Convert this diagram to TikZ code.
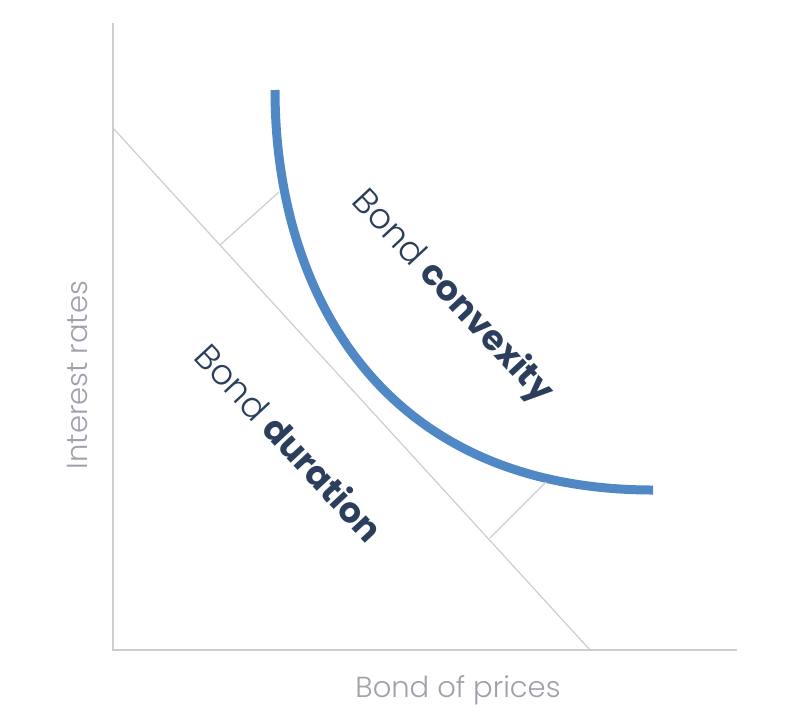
\documentclass[tikz,border=0pt]{standalone}
\usepackage{fontspec}
\usepackage{tikz}
\setmainfont{Poppins}
\newfontfamily\lightfont{Poppins Light}
\definecolor{curveblue}{RGB}{80, 136, 197}
\definecolor{darknavy}{RGB}{43, 63, 92}
\definecolor{axisgray}{RGB}{205, 205, 205}
\definecolor{labelgray}{RGB}{160, 160, 172}

\begin{document}
\begin{tikzpicture}[x=1pt, y=-1pt]

			\useasboundingbox (0, 0) rectangle (786, 726);

			% AXES
			\coordinate (origin) at (113, 650);
			\coordinate (ytop) at (113, 23);
			\coordinate (xend) at (737, 650);
			\draw[axisgray, line width=1.6] (ytop) -- (origin) -- (xend);

			% DURATION LINE
			\coordinate (dstart) at (113, 128);
			\coordinate (dend) at (590, 650);
			\draw[axisgray, line width=1.2] (dstart) -- (dend);

			% CONVEXITY CURVE
			\coordinate (ctop) at (275, 90);
			\coordinate (cend) at (653, 490);
			\draw[curveblue, line width=9] (ctop) .. controls (275, 290) and (380, 490) .. (cend);

			% TICKS
			\coordinate (tickA) at (220, 245);
			\coordinate (tickAend) at (279, 192);
			\coordinate (tickB) at (490, 538);
			\coordinate (tickBend) at (546, 482);
			\draw[axisgray, line width=1.2] (tickA) -- (tickAend);
			\draw[axisgray, line width=1.2] (tickB) -- (tickBend);

			% LABELS
			\node[darknavy, font=\fontsize{35}{40}\selectfont, rotate=-47] (convexity) at (452, 297) {{\lightfont Bond} \textbf{convexity}};
			\node[darknavy, font=\fontsize{35}{40}\selectfont, rotate=-47] (duration) at (290, 442) {{\lightfont Bond} \textbf{duration}};
			\node[labelgray, font=\lightfont\fontsize{29}{34}\selectfont] (xlabel) at (458, 690) {Bond of prices};
			\node[labelgray, font=\lightfont\fontsize{29}{34}\selectfont, rotate=90] (ylabel) at (77, 375) {Interest rates};

		\end{tikzpicture}
\end{document}
